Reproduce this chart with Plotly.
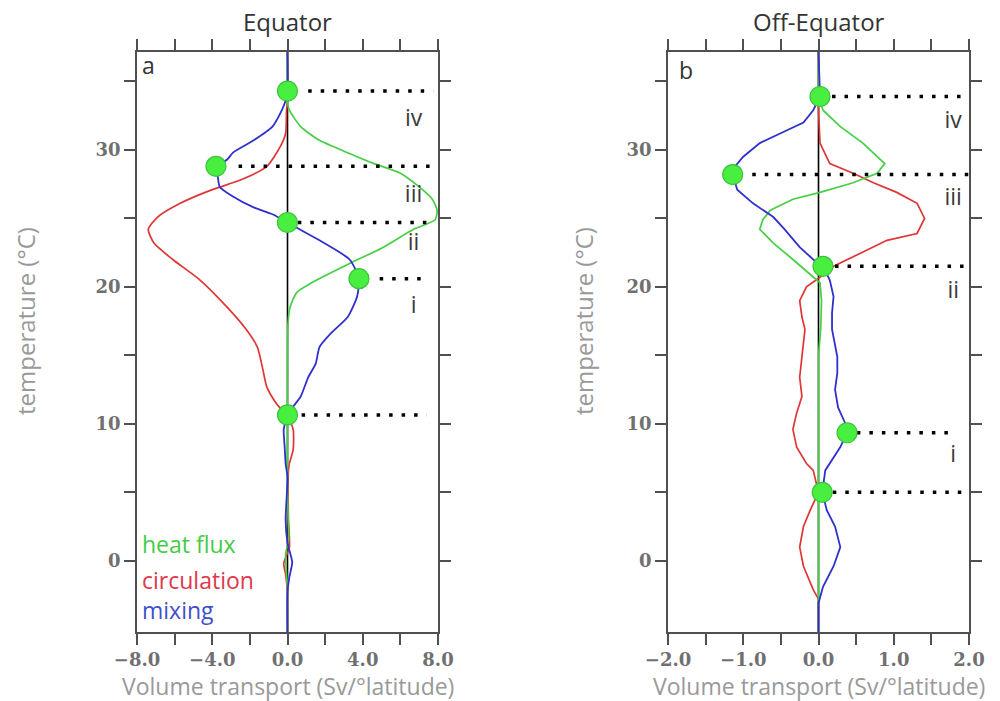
import plotly.graph_objects as go

# ---------------- data ----------------
# Panel a: Equator  (temperature in degC, transport in Sv/deg latitude)
eq_mix_T = [37.2, 34.3, 33.6, 32.9, 31.7, 30.7, 29.8, 29.3, 28.8, 28.0, 27.3, 26.6, 25.8, 25.3, 24.7, 24.0, 23.4,
            22.0, 20.6, 19.3, 17.8, 16.6, 15.6, 14.4, 13.4, 12.0, 10.9, 10.65, 9.6, 8.3, 7.1, 6.1, 4.5, 3.0, 1.3,
            -0.1, -1.2, -2.3, -5.2]
eq_mix_x = [0, 0, -0.1, -0.3, -0.8, -1.8, -2.9, -3.2, -3.75, -3.7, -3.6, -2.9, -1.8, -0.8, 0, 0.9, 1.7,
            3.3, 3.8, 3.7, 3.2, 2.3, 1.7, 1.5, 1.1, 0.7, 0.1, 0.0, -0.2, -0.15, -0.1, 0, -0.05, -0.1, 0,
            0.25, 0.1, 0, 0]

eq_circ_T = [37.2, 33.5, 32.9, 31.2, 30.2, 28.8, 27.8, 27.1, 26.1, 25.1, 24.2, 23.2, 22.0, 20.5, 18.5, 16.9,
             15.6, 13.9, 12.7, 11.5, 10.5, 9.6, 8.1, 7.1, 6.6, 3.0, 1.0, -0.2, -1.0, -2.3, -5.2]
eq_circ_x = [0, 0, -0.05, -0.1, -0.4, -1.1, -2.5, -4.0, -5.7, -6.9, -7.4, -7.1, -6.1, -4.65, -3.2, -2.2,
             -1.6, -1.3, -1.1, -0.6, 0, 0.3, 0.3, 0.1, 0.05, 0.05, 0.1, -0.2, -0.1, 0, 0]

eq_heat_T = [37.2, 33.5, 32.9, 31.7, 30.7, 29.8, 29.0, 28.3, 27.3, 26.4, 25.6, 24.9, 24.2, 22.9, 21.7, 20.5,
             19.6, 18.5, 17.4, 15.0, 10.0, 5.0, 1.5, 0.5, -1.0, -2.0, -5.2]
eq_heat_x = [0, 0, 0.1, 0.7, 1.7, 3.2, 4.6, 6.0, 7.0, 7.7, 7.95, 7.85, 6.7, 5.1, 3.3, 1.55,
             0.5, 0.13, 0.03, 0, 0, 0, 0.05, -0.1, -0.05, 0, 0]

eq_pts_T = [34.3, 28.8, 24.7, 20.6, 10.65]
eq_pts_x = [0, -3.8, 0, 3.8, 0]
eq_dot_start = [1.1, -2.6, 0.55, 4.9, 0.75]
eq_dot_end = [7.75, 7.7, 7.6, 7.3, 7.4]
eq_roman = ["iv", "iii", "ii", "i"]
eq_roman_T = [32.2, 26.6, 23.1, 18.5]

# Panel b: Off-Equator
off_mix_T = [37.2, 33.9, 32.9, 32.0, 31.2, 30.5, 29.5, 28.8, 28.2, 27.1, 26.1, 25.1, 24.2, 22.9, 22.0, 21.5,
             20.5, 19.3, 18.1, 16.9, 14.9, 13.7, 12.5, 11.2, 10.1, 9.35, 8.3, 7.1, 6.6, 5.0, 3.7, 2.5, 1.0,
             -0.4, -1.9, -3.1, -5.2]
off_mix_x = [0, 0.02, -0.07, -0.2, -0.51, -0.78, -1.0, -1.11, -1.14, -1.08, -0.87, -0.6, -0.45, -0.25, -0.07, 0.06,
             0.15, 0.2, 0.18, 0.18, 0.25, 0.25, 0.22, 0.26, 0.35, 0.38, 0.29, 0.15, 0.09, 0.05, 0.11, 0.22, 0.29,
             0.2, 0.06, 0, 0]

off_circ_T = [37.2, 33.5, 32.9, 30.5, 29.0, 28.3, 27.6, 26.9, 26.1, 25.0, 23.9, 23.4, 22.2, 21.5, 20.7, 20.0,
              19.0, 17.8, 16.9, 14.9, 13.4, 12.0, 10.8, 9.6, 8.3, 7.1, 6.6, 5.0, 3.7, 2.5, 1.0, -0.4, -2.1,
              -2.8, -5.2]
off_circ_x = [0, 0, 0, 0.02, 0.15, 0.46, 0.73, 1.04, 1.31, 1.41, 1.31, 0.91, 0.46, 0.2, 0.02, -0.16,
              -0.25, -0.22, -0.18, -0.22, -0.25, -0.22, -0.29, -0.34, -0.29, -0.16, -0.07, 0, -0.11, -0.2, -0.25,
              -0.2, -0.07, 0, 0]

off_heat_T = [37.2, 33.9, 32.9, 31.7, 30.5, 29.0, 28.3, 27.6, 26.9, 26.4, 25.6, 24.9, 24.2, 23.2, 22.0, 20.7,
              20.3, 19.0, 17.0, 15.0, 5.0, 0.0, -2.5, -5.2]
off_heat_x = [0, 0, 0.06, 0.29, 0.59, 0.88, 0.78, 0.46, 0.02, -0.34, -0.64, -0.74, -0.78, -0.6, -0.34, -0.07,
              0.02, 0.04, 0.03, 0, 0, 0, 0, 0]

off_pts_T = [33.9, 28.2, 21.5, 9.35, 5.0]
off_pts_x = [0.02, -1.14, 0.06, 0.38, 0.05]
off_dot_start = [0.18, -0.88, 0.22, 0.51, 0.19]
off_dot_end = [1.98, 2.0, 2.0, 1.8, 2.0]
off_roman = ["iv", "iii", "ii", "i"]
off_roman_T = [32.0, 26.4, 19.6, 7.6]

eq_xticks = [-8, -6, -4, -2, 0, 2, 4, 6, 8]
eq_xlabels = ["\u22128.0", "", "\u22124.0", "", "0.0", "", "4.0", "", "8.0"]
off_xticks = [-2, -1.5, -1, -0.5, 0, 0.5, 1, 1.5, 2]
off_xlabels = ["\u22122.0", "", "\u22121.0", "", "0.0", "", "1.0", "", "2.0"]
yticks = [0, 5, 10, 15, 20, 25, 30, 35]
ylabels = ["0", "", "10", "", "20", "", "30", ""]
T_range = [-5.2, 37.15]
zero_T = [-5.2, 37.15]

series_names = ["circulation", "heat flux", "mixing"]
# --------------------------------------

C_RED = "#e03535"
C_GREEN = "#45cf45"
C_BLUE = "#3030cc"
LBL_RED = "#e0384a"
LBL_GREEN = "#45cc45"
LBL_BLUE = "#4050cc"

W, H = 1000, 701
fig = go.Figure()

panels = [
    ("x", "y", eq_circ_x, eq_circ_T, eq_heat_x, eq_heat_T, eq_mix_x, eq_mix_T,
     eq_pts_x, eq_pts_T, eq_dot_start, eq_dot_end, eq_roman, eq_roman_T, 6.7, "spline"),
    ("x2", "y2", off_circ_x, off_circ_T, off_heat_x, off_heat_T, off_mix_x, off_mix_T,
     off_pts_x, off_pts_T, off_dot_start, off_dot_end, off_roman, off_roman_T, 1.79, "linear"),
]

for (xr, yr, cx, cT, hx, hT, mx, mT, px, pT, ds, de, rom, romT, romx, shape) in panels:
    fig.add_trace(go.Scatter(x=[0, 0], y=zero_T, mode="lines", xaxis=xr, yaxis=yr,
                             line=dict(color="black", width=1.6), showlegend=False, hoverinfo="skip"))
    fig.add_trace(go.Scatter(x=cx, y=cT, mode="lines", xaxis=xr, yaxis=yr, name=series_names[0],
                             line=dict(color=C_RED, width=1.7, shape=shape, smoothing=0.6), showlegend=False))
    fig.add_trace(go.Scatter(x=hx, y=hT, mode="lines", xaxis=xr, yaxis=yr, name=series_names[1],
                             line=dict(color=C_GREEN, width=1.7, shape=shape, smoothing=0.6), showlegend=False))
    fig.add_trace(go.Scatter(x=mx, y=mT, mode="lines", xaxis=xr, yaxis=yr, name=series_names[2],
                             line=dict(color=C_BLUE, width=1.8, shape=shape, smoothing=0.6), showlegend=False))
    for s, e, t in zip(ds, de, pT):
        fig.add_trace(go.Scatter(x=[s, e], y=[t, t], mode="lines", xaxis=xr, yaxis=yr,
                                 line=dict(color="black", width=3.5, dash="3.5px,9px"),
                                 showlegend=False, hoverinfo="skip"))
    fig.add_trace(go.Scatter(x=px, y=pT, mode="markers", xaxis=xr, yaxis=yr,
                             marker=dict(size=20, color="#48ee40", line=dict(color="#3cc23c", width=1.2)),
                             showlegend=False))
    fig.add_trace(go.Scatter(x=[romx] * len(rom), y=romT, mode="text", text=rom, xaxis=xr, yaxis=yr,
                             textfont=dict(family="Open Sans", size=23, color="#3a3a3a"),
                             textposition="middle center", showlegend=False, hoverinfo="skip"))

ydom = [1 - 632 / H, 1 - 52 / H]
axis_common = dict(showline=True, linecolor="#505050", linewidth=1.6, mirror="ticks", ticks="outside",
                   ticklen=11, tickwidth=1.6, tickcolor="#505050", showgrid=False, zeroline=False,
                   automargin=False,
                   tickfont=dict(family="DejaVu Serif", size=18, color="#707070", weight="bold"))

fig.update_layout(
    width=W, height=H, margin=dict(l=0, r=0, t=0, b=0, pad=0, autoexpand=False),
    plot_bgcolor="white", paper_bgcolor="white", showlegend=False,
    xaxis=dict(domain=[0.137, 0.438], range=[-8, 8], tickmode="array", tickvals=eq_xticks,
               ticktext=eq_xlabels, anchor="y", **axis_common),
    yaxis=dict(domain=ydom, range=T_range, tickmode="array", tickvals=yticks, ticktext=ylabels,
               anchor="x", **axis_common),
    xaxis2=dict(domain=[0.668, 0.969], range=[-2, 2], tickmode="array", tickvals=off_xticks,
                ticktext=off_xlabels, anchor="y2", **axis_common),
    yaxis2=dict(domain=ydom, range=T_range, tickmode="array", tickvals=yticks, ticktext=ylabels,
                anchor="x2", **axis_common),
)

sans = "Open Sans"
ann = []
# titles
ann.append(dict(text="Equator", x=287.5 / W, y=1 - 21 / H, xref="paper", yref="paper", showarrow=False,
                xanchor="center", yanchor="middle", font=dict(family=sans, size=24, color="#333333")))
ann.append(dict(text="Off-Equator", x=819 / W, y=1 - 21 / H, xref="paper", yref="paper", showarrow=False,
                xanchor="center", yanchor="middle", font=dict(family=sans, size=24, color="#333333")))
# axis titles
for cx in (287.5, 819):
    ann.append(dict(text="Volume transport (Sv/°latitude)", x=cx / W, y=1 - 686 / H, xref="paper",
                    yref="paper", xanchor="center", yanchor="middle",
                    showarrow=False, font=dict(family=sans, size=23, color="#999999")))
for cx in (25, 583):
    ann.append(dict(text="temperature (°C)", x=cx / W, y=1 - 321 / H, xref="paper", yref="paper",
                    xanchor="center", yanchor="middle",
                    showarrow=False, textangle=-90, font=dict(family=sans, size=24, color="#999999")))
# panel letters
ann.append(dict(text="a", x=-7.85, y=36.2, xref="x", yref="y", showarrow=False, xanchor="left",
                font=dict(family=sans, size=23, color="#333333")))
ann.append(dict(text="b", x=-1.88, y=35.8, xref="x2", yref="y2", showarrow=False, xanchor="left",
                font=dict(family=sans, size=23, color="#333333")))
# legend text
leg_T = [1.2, -1.4, -3.6]
leg_names = ["heat flux", "circulation", "mixing"]
leg_cols = [LBL_GREEN, LBL_RED, LBL_BLUE]
for n, t, c in zip(leg_names, leg_T, leg_cols):
    ann.append(dict(text=n, x=-7.85, y=t, xref="x", yref="y", showarrow=False, xanchor="left",
                    font=dict(family=sans, size=23, color=c)))
fig.update_layout(annotations=ann)

fig.write_html("out.html")
